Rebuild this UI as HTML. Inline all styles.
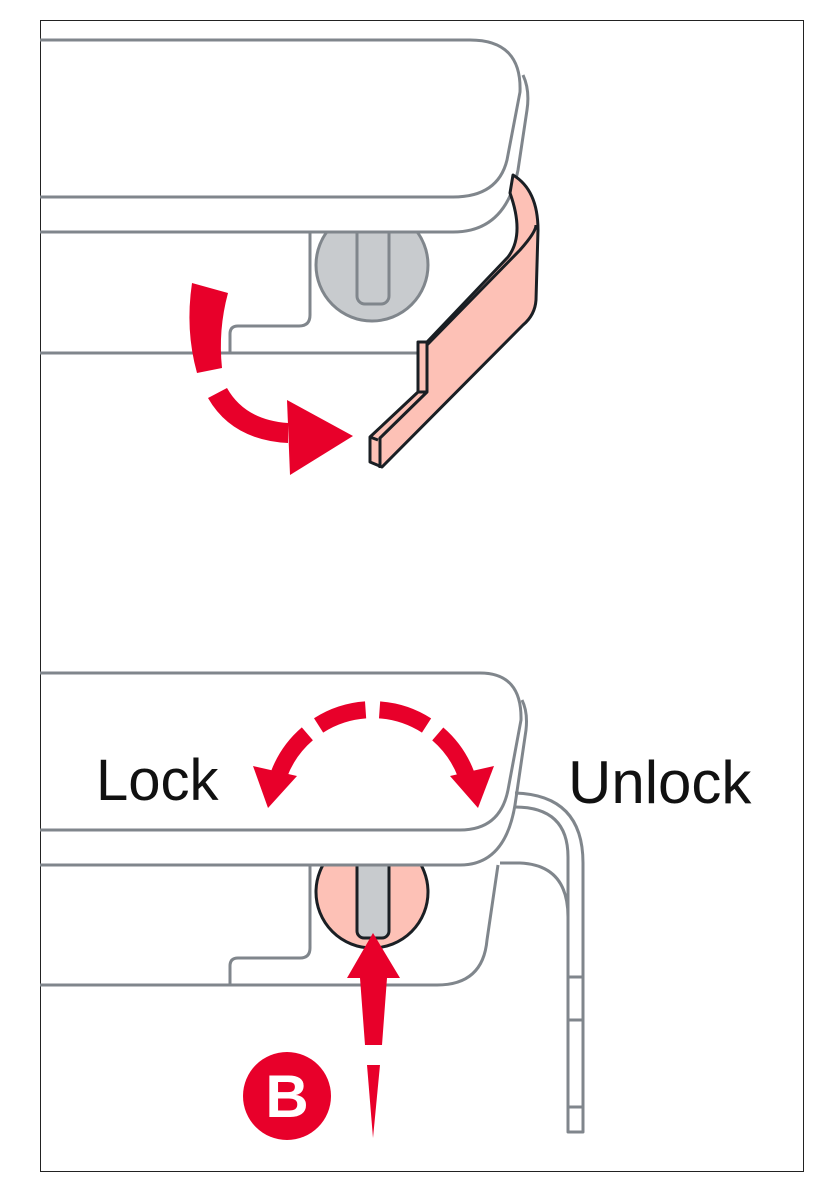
<!DOCTYPE html>
<html><head><meta charset="utf-8"><style>html,body{margin:0;padding:0;background:#fff}svg{display:block}</style></head>
<body>
<svg width="837" height="1204" viewBox="0 0 837 1204" xmlns="http://www.w3.org/2000/svg">
<defs>
<clipPath id="c1"><rect x="0" y="232" width="837" height="200"/></clipPath>
<clipPath id="c2"><rect x="0" y="865" width="837" height="200"/></clipPath>
</defs>
<rect x="40.5" y="20.5" width="763" height="1151" fill="none" stroke="#222" stroke-width="1"/>
<g clip-path="url(#c1)">
<circle cx="372" cy="265" r="56" fill="#c8cbce" stroke="#80868c" stroke-width="3"/>
<rect x="357" y="220" width="32" height="84" rx="8" fill="#c8cbce" stroke="#80868c" stroke-width="3"/>
</g>
<g fill="none" stroke="#80868c" stroke-width="3" stroke-linejoin="round">
<path d="M40 40 H470 Q522 40 520 92 L507 160 Q498 197 453 197 H40"/>
<path d="M523 75 Q530 90 527 110 L518 170 Q506 232 453 232 H40"/>
<path d="M310 232 V315 Q310 326 299 326 H238 Q230 326 230 334 V353"/>
<path d="M40 353 H418"/>
</g>
<!-- clip -->
<g fill="#fdc1b6" stroke="#1a1f24" stroke-width="3" stroke-linejoin="round">
<path d="M513 175 Q538 190 538 230 L536 300 Q535 315 523 325 L382 467 L370 462 L370 437 L418 392 L418 342 L427 342 L508 257 Q525 235 510 193 Z"/>
<path d="M427 342 V392 L380 438 V468" fill="none"/>
<path d="M370 437 L378 440" fill="none"/>
<path d="M418 392 L427 392" fill="none"/>
<path d="M427 345 L520 250 Q536 232 536 225" fill="none"/>
</g>
<!-- red rotation arrow -->
<g fill="#e8002a">
<path d="M192 283 L228 293 Q218 330 222 368 L197 373 Q185 330 192 283 Z"/>
<path d="M208 398 L227 388 Q245 420 288 423 L288 443 Q232 440 208 398 Z"/>
<path d="M287 400 L353 436 L290 475 Z"/>
</g>
<!-- bottom knob -->
<g clip-path="url(#c2)">
<circle cx="372" cy="892" r="56" fill="#fdc1b6" stroke="#1a1f24" stroke-width="3"/>
<rect x="357" y="850" width="32" height="88" rx="7" fill="#c8cbce" stroke="#1a1f24" stroke-width="3"/>
</g>
<!-- bottom handle -->
<g fill="none" stroke="#80868c" stroke-width="3" stroke-linejoin="round">
<path d="M40 673 H480 Q522 673 521 720 L508 790 Q500 830 460 830 H40"/>
<path d="M522 700 Q528 712 526 730 L515 805 Q505 865 460 865 H40"/>
<path d="M310 865 V948 Q310 958 300 958 H238 Q230 958 230 966 V985"/>
<path d="M40 985 H437 Q483 985 487 940 L498 865"/>
<path d="M515 793 Q583 795 583 863 V1132 H568 V857 Q568 807 515 807"/>
<path d="M500 863 H520 Q568 865 568 917"/>
<path d="M568 977 H583 M568 1020 H583 M568 1107 H583"/>
</g>
<!-- up arrow -->
<g fill="#e8002a">
<path d="M373 933 L400 978 L387 978 L382 1045 L365 1045 L360 978 L347 978 Z"/>
<path d="M367 1065 L380 1065 L373 1138 Z"/>
<circle cx="287" cy="1096" r="44"/>
</g>
<text x="287" y="1117" text-anchor="middle" font-family="Liberation Sans, sans-serif" font-weight="bold" font-size="60" fill="#fff">B</text>
<!-- dashed double arrow -->
<path d="M277 780 A100 100 0 0 1 468 780" fill="none" stroke="#e8002a" stroke-width="17" stroke-dasharray="50 14" stroke-dashoffset="-6"/>
<g fill="#e8002a">
<path d="M253 766 L297 776 L268 808 Z"/>
<path d="M450 776 L494 766 L478 808 Z"/>
</g>
<text x="96" y="800" font-family="Liberation Sans, sans-serif" font-size="58" fill="#111">Lock</text>
<text x="568" y="803" font-family="Liberation Sans, sans-serif" font-size="60" fill="#111">Unlock</text>
</svg>
</body></html>
